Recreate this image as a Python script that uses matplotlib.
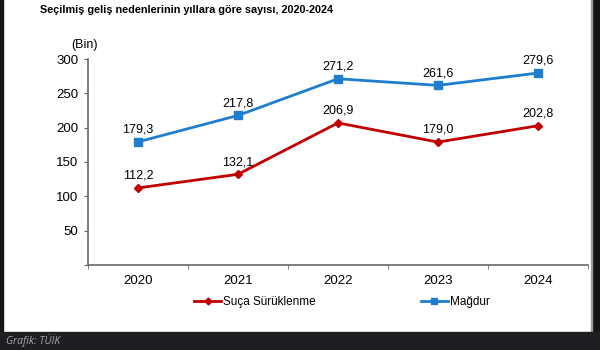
import matplotlib.pyplot as plt
from matplotlib.patches import Rectangle
from matplotlib.lines import Line2D

# Data (thousands)
years = ["2020", "2021", "2022", "2023", "2024"]
suca_suruklenme = [112.2, 132.1, 206.9, 179.0, 202.8]
magdur = [179.3, 217.8, 271.2, 261.6, 279.6]
series_names = ["Suça Sürüklenme", "Mağdur"]
yticks = [50, 100, 150, 200, 250, 300]

RED = "#C00000"
BLUE = "#1F7DCF"

plt.rcParams["font.family"] = ["Liberation Sans", "DejaVu Sans"]

fig = plt.figure(figsize=(6, 3.5), dpi=100)
fig.patch.set_facecolor("white")

# frame around the picture (dark borders + caption band)
fig.add_artist(Rectangle((0, 0), 3 / 600, 1, transform=fig.transFigure, color="#151515", zorder=0))
fig.add_artist(Rectangle((593 / 600, 0), 7 / 600, 1, transform=fig.transFigure, color="#151515", zorder=0))
fig.add_artist(Rectangle((591 / 600, 18 / 350), 1.2 / 600, 1, transform=fig.transFigure, color="#9a9a9a", zorder=0))
fig.add_artist(Rectangle((0, 0), 1, 18 / 350, transform=fig.transFigure, color="#1e1f22", zorder=1))
fig.text(6 / 600, 9 / 350, "Grafik: TÜİK", color="#a8a8a8", fontsize=7.5, style="italic",
         va="center", ha="left", family=["Open Sans", "DejaVu Sans"])

fig.text(40 / 600, 1 - 10 / 350, "Seçilmiş geliş nedenlerinin yıllara göre sayısı, 2020-2024",
         fontsize=7.8, fontweight="bold", va="center", ha="left")
fig.text(85 / 600, 1 - 45 / 350, "(Bin)", fontsize=9, va="center", ha="center")

ax = fig.add_axes([88 / 600, 85 / 350, 500 / 600, 206 / 350])
x = list(range(len(years)))

ax.plot(x, suca_suruklenme, color=RED, lw=2, marker="D", ms=4.5, zorder=3)
ax.plot(x, magdur, color=BLUE, lw=2, marker="s", ms=5.5, zorder=3)

for xi, v in zip(x, suca_suruklenme):
    ax.annotate(f"{v:.1f}".replace(".", ","), (xi, v), xytext=(0, 4.5), textcoords="offset points",
                ha="center", va="bottom", fontsize=9)
for xi, v in zip(x, magdur):
    ax.annotate(f"{v:.1f}".replace(".", ","), (xi, v), xytext=(0, 4.5), textcoords="offset points",
                ha="center", va="bottom", fontsize=9)

ax.set_xlim(-0.5, 4.5)
ax.set_ylim(0, 300)
ax.set_yticks([0] + yticks)
ax.set_yticklabels([""] + [str(t) for t in yticks])
ax.set_xticks(x)
ax.set_xticklabels(years)
ax.set_xticks([i - 0.5 for i in range(len(years) + 1)], minor=True)
ax.tick_params(axis="x", which="major", length=0, pad=7, labelsize=9.5)
ax.tick_params(axis="x", which="minor", length=3, color="#666666", direction="out")
ax.tick_params(axis="y", length=3, color="#666666", labelsize=9.5, pad=4)

for s in ["top", "right"]:
    ax.spines[s].set_visible(False)
for s in ["left", "bottom"]:
    ax.spines[s].set_color("#666666")
    ax.spines[s].set_linewidth(1.2)

handles = [Line2D([], [], color=RED, lw=2, marker="D", ms=3.5),
           Line2D([], [], color=BLUE, lw=2, marker="s", ms=4.5)]
fig.legend(handles, series_names, loc="center", bbox_to_anchor=(342 / 600, 48 / 350), ncol=2,
           frameon=False, fontsize=8.5, handlelength=2.3, handletextpad=0.15, columnspacing=8.9)

fig.savefig("out.png", dpi=100)
